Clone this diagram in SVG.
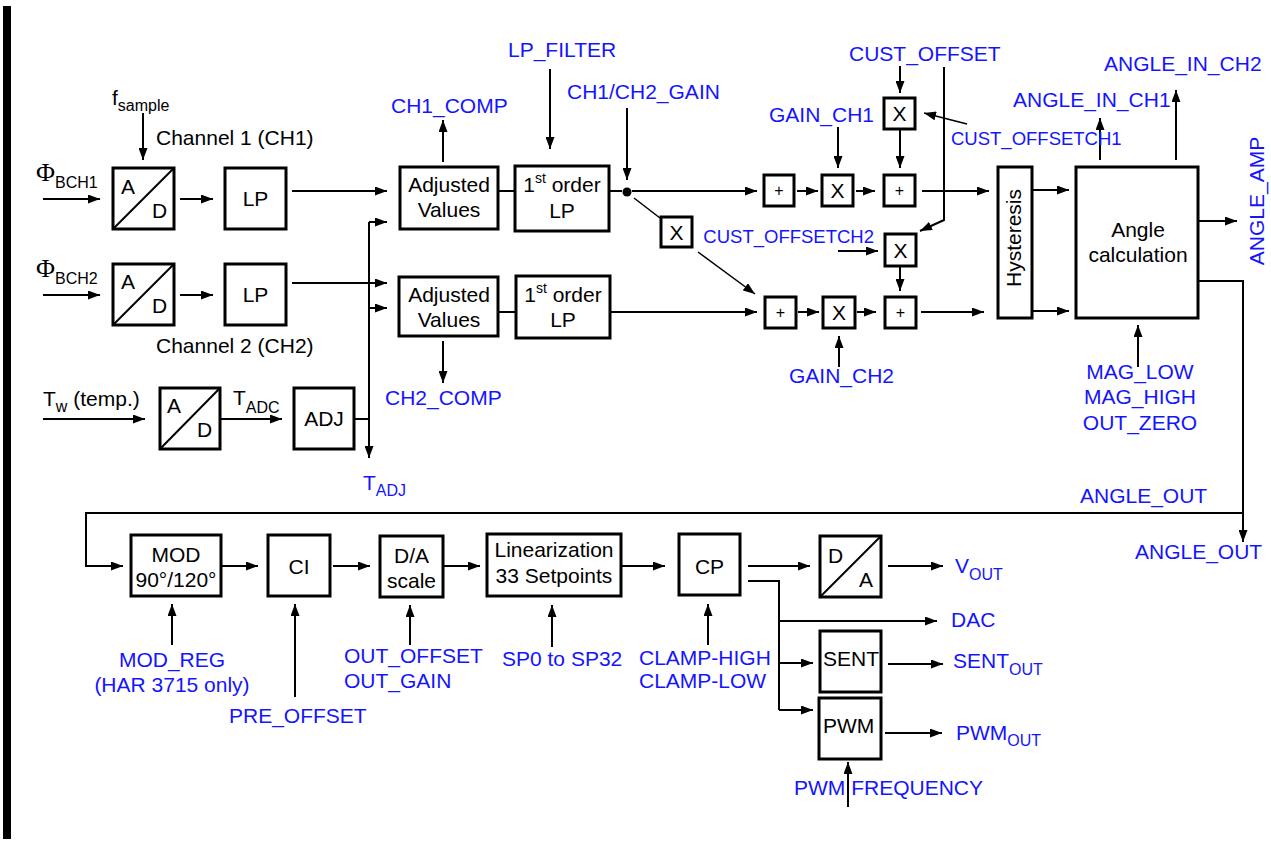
<svg xmlns="http://www.w3.org/2000/svg" width="1271" height="841" viewBox="0 0 1271 841">
<defs>
<marker id="ah" markerUnits="userSpaceOnUse" markerWidth="12" markerHeight="9" refX="12" refY="4.5" orient="auto"><path d="M0,0 L12,4.5 L0,9 z" fill="#000"/></marker>
<style>
.box{fill:#fff;stroke:#000;stroke-width:3}
.ln{fill:none;stroke:#000;stroke-width:2}
.thin{fill:none;stroke:#000;stroke-width:1.5}
.a{marker-end:url(#ah)}
text{font-family:"Liberation Sans",Arial,Helvetica,sans-serif;font-size:21px;fill:#000}
.bl{fill:#1414ff}
.m{text-anchor:middle}
.e{text-anchor:end}
.sub{font-size:16px}
.sm{font-size:16px}
.co{font-size:18.5px}
.phi{font-family:"Liberation Serif","Times New Roman",serif;font-size:26px}
</style>
</defs>
<rect width="1271" height="841" fill="#fff"/>
<rect x="3" y="6" width="8" height="833" fill="#000"/>

<g id="connectors">
<path class="ln a" d="M143,113 V160"/>
<path class="ln a" d="M43,199 H100"/>
<path class="ln a" d="M180,199 H213"/>
<path class="ln a" d="M292,191 H387"/>
<path class="ln a" d="M43,295 H100"/>
<path class="ln a" d="M180,295 H213"/>
<path class="ln a" d="M292,283 H387"/>
<path class="ln a" d="M43,419 H145"/>
<path class="ln a" d="M220,419 H282"/>
<path class="ln" d="M354,419 H369"/>
<path class="ln a" d="M369,222 V458"/>
<path class="ln a" d="M369,222 H387"/>
<path class="ln a" d="M369,308 H387"/>
<path class="ln a" d="M443,162 V120"/>
<path class="ln a" d="M443,341 V383"/>
<path class="ln" d="M498,191 H515"/>
<path class="ln a" d="M550,69 V149"/>
<path class="ln" d="M609,191 H622"/>
<path class="ln a" d="M627,108 V180"/>
<circle cx="627" cy="192" r="4.5" fill="#000"/>
<path class="ln a" d="M632,191 H757"/>
<path class="thin" d="M634,198 L660,218"/>
<path class="thin a" d="M698,252 L755,294"/>
<path class="ln" d="M498,312 H516"/>
<path class="ln a" d="M610,312 H757"/>
<path class="ln a" d="M797,191 H818"/>
<path class="ln a" d="M856,191 H875"/>
<path class="ln a" d="M900,66 V93"/>
<path class="ln a" d="M900,130 V168"/>
<path class="ln a" d="M838,127 V168"/>
<path class="ln a" d="M944,67 V220 L920,231"/>
<path class="thin a" d="M967,124 L924,113"/>
<path class="ln a" d="M838,251 H878"/>
<path class="ln a" d="M900,267 V291"/>
<path class="ln a" d="M798,312 H819"/>
<path class="ln a" d="M857,312 H876"/>
<path class="ln a" d="M839,367 V336"/>
<path class="ln a" d="M922,191 H989"/>
<path class="ln a" d="M921,312 H984"/>
<path class="ln a" d="M1032,190 H1069"/>
<path class="ln a" d="M1032,311 H1069"/>
<path class="ln a" d="M1100,160 V118"/>
<path class="ln a" d="M1176,160 V90"/>
<path class="ln a" d="M1198,221 H1237"/>
<path class="ln a" d="M1198,281 H1243 V542"/>
<path class="ln a" d="M1138,367 V325"/>
<path class="ln a" d="M1243,513 H86 V566 H123"/>
<path class="ln a" d="M221,566 H258"/>
<path class="ln a" d="M333,566 H370"/>
<path class="ln a" d="M443,566 H480"/>
<path class="ln a" d="M621,566 H665"/>
<path class="ln a" d="M748,566 H810"/>
<path class="ln a" d="M888,566 H943"/>
<path class="ln" d="M748,581 H779 V710"/>
<path class="ln a" d="M779,621 H937"/>
<path class="ln a" d="M779,663 H813"/>
<path class="ln a" d="M779,710 H813"/>
<path class="ln a" d="M888,664 H943"/>
<path class="ln a" d="M885,733 H942"/>
<path class="ln a" d="M848,807 V762"/>
<path class="ln a" d="M172,645 V604"/>
<path class="ln a" d="M295,697 V604"/>
<path class="ln a" d="M410,645 V605"/>
<path class="ln a" d="M552,647 V605"/>
<path class="ln a" d="M708,645 V604"/>
</g>

<g id="ad1"><rect class="box" x="113" y="168" width="61" height="61"/><path class="ln" d="M113,229 L174,168"/><text x="121" y="194">A</text><text x="152" y="218">D</text></g>
<g id="lp1"><rect class="box" x="225" y="168" width="61" height="61"/><text class="m" x="255.5" y="206">LP</text></g>
<g id="ad2"><rect class="box" x="113" y="264" width="61" height="61"/><path class="ln" d="M113,325 L174,264"/><text x="121" y="289">A</text><text x="152" y="313">D</text></g>
<g id="lp2"><rect class="box" x="225" y="264" width="61" height="61"/><text class="m" x="255.5" y="302">LP</text></g>
<g id="ad3"><rect class="box" x="160" y="388" width="60" height="61"/><path class="ln" d="M160,449 L220,388"/><text x="167" y="413">A</text><text x="197" y="437">D</text></g>
<g id="adj"><rect class="box" x="294" y="388" width="60" height="61"/><text class="m" x="324" y="426">ADJ</text></g>
<g id="adjv1"><rect class="box" x="400" y="167" width="98" height="62"/><text class="m" x="449" y="192">Adjusted</text><text class="m" x="449" y="217">Values</text></g>
<g id="lpf1"><rect class="box" x="515" y="166" width="94" height="65"/><text class="m" x="562" y="192">1<tspan font-size="14" dy="-9">st</tspan><tspan dy="9"> order</tspan></text><text class="m" x="562" y="218">LP</text></g>
<g id="adjv2"><rect class="box" x="399" y="277" width="99" height="59"/><text class="m" x="449" y="302">Adjusted</text><text class="m" x="449" y="327">Values</text></g>
<g id="lpf2"><rect class="box" x="516" y="276" width="94" height="62"/><text class="m" x="563" y="302">1<tspan font-size="14" dy="-9">st</tspan><tspan dy="9"> order</tspan></text><text class="m" x="563" y="327">LP</text></g>
<g id="xmid"><rect class="box" x="661" y="217" width="31" height="30"/><text class="m" x="676.5" y="240">X</text></g>
<g id="xtop"><rect class="box" x="884" y="98" width="31" height="31"/><text class="m" x="899.5" y="121">X</text></g>
<g id="p1l"><rect class="box" x="764" y="175" width="30" height="31"/><text class="m sm" x="779" y="196">+</text></g>
<g id="x1"><rect class="box" x="822" y="175" width="31" height="31"/><text class="m" x="837.5" y="198">X</text></g>
<g id="p1r"><rect class="box" x="884" y="175" width="31" height="31"/><text class="m sm" x="899.5" y="196">+</text></g>
<g id="xlow"><rect class="box" x="885" y="234" width="31" height="32"/><text class="m" x="900.5" y="258">X</text></g>
<g id="p2l"><rect class="box" x="765" y="297" width="31" height="31"/><text class="m sm" x="780.5" y="318">+</text></g>
<g id="x2"><rect class="box" x="823" y="297" width="32" height="31"/><text class="m" x="839" y="320">X</text></g>
<g id="p2r"><rect class="box" x="885" y="297" width="31" height="31"/><text class="m sm" x="900.5" y="318">+</text></g>
<g id="hyst"><rect class="box" x="998" y="167" width="34" height="151"/><text class="m" transform="translate(1021,238) rotate(-90)">Hysteresis</text></g>
<g id="angle"><rect class="box" x="1076" y="167" width="122" height="151"/><text class="m" x="1138" y="237">Angle</text><text class="m" x="1138" y="262">calculation</text></g>
<g id="mod"><rect class="box" x="131" y="535" width="90" height="61"/><text class="m" x="176" y="562">MOD</text><text class="m" x="176" y="587">90°/120°</text></g>
<g id="ci"><rect class="box" x="268" y="535" width="62" height="61"/><text class="m" x="299" y="574">CI</text></g>
<g id="dascale"><rect class="box" x="380" y="536" width="63" height="61"/><text class="m" x="411.5" y="563">D/A</text><text class="m" x="411.5" y="588">scale</text></g>
<g id="lin"><rect class="box" x="487" y="534" width="134" height="62"/><text class="m" x="554" y="557">Linearization</text><text class="m" x="554" y="583">33 Setpoints</text></g>
<g id="cp"><rect class="box" x="679" y="534" width="61" height="61"/><text class="m" x="709.5" y="574">CP</text></g>
<g id="da"><rect class="box" x="820" y="536" width="61" height="61"/><path class="ln" d="M820,597 L881,536"/><text x="828" y="563">D</text><text x="859" y="587">A</text></g>
<g id="sent"><rect class="box" x="820" y="631" width="61" height="61"/><text x="823" y="666">SENT</text></g>
<g id="pwm"><rect class="box" x="819" y="698" width="62" height="61"/><text x="823" y="733">PWM</text></g>

<g id="labels">
<text x="112" y="105">f<tspan class="sub" dy="6">sample</tspan></text>
<text x="156" y="145" font-size="22">Channel 1 (CH1)</text>
<text x="36" y="181"><tspan class="phi">Φ</tspan><tspan class="sub" dy="7">BCH1</tspan></text>
<text x="36" y="277"><tspan class="phi">Φ</tspan><tspan class="sub" dy="7">BCH2</tspan></text>
<text x="156" y="353" font-size="22">Channel 2 (CH2)</text>
<text x="43" y="406">T<tspan class="sub" dy="6">w</tspan><tspan dy="-6"> (temp.)</tspan></text>
<text x="233" y="405">T<tspan class="sub" dy="8">ADC</tspan></text>
<text class="bl" x="363" y="490">T<tspan class="sub" dy="6">ADJ</tspan></text>
<text class="bl" x="391" y="113">CH1_COMP</text>
<text class="bl" x="385" y="405">CH2_COMP</text>
<text class="bl" x="508" y="57">LP_FILTER</text>
<text class="bl" x="567" y="99">CH1/CH2_GAIN</text>
<text class="bl" x="849" y="61">CUST_OFFSET</text>
<text class="bl" x="769" y="122">GAIN_CH1</text>
<text class="bl co" x="951" y="145">CUST_OFFSETCH1</text>
<text class="bl co e" x="874" y="243">CUST_OFFSETCH2</text>
<text class="bl" x="1013" y="107">ANGLE_IN_CH1</text>
<text class="bl" x="1104" y="71">ANGLE_IN_CH2</text>
<text class="bl m" transform="translate(1264,201) rotate(-90)">ANGLE_AMP</text>
<text class="bl" x="789" y="383">GAIN_CH2</text>
<text class="bl m" x="1140" y="379">MAG_LOW</text>
<text class="bl m" x="1140" y="404">MAG_HIGH</text>
<text class="bl m" x="1140" y="430">OUT_ZERO</text>
<text class="bl" x="1080" y="503">ANGLE_OUT</text>
<text class="bl" x="1135" y="559">ANGLE_OUT</text>
<text class="bl" x="955" y="573">V<tspan class="sub" dy="7">OUT</tspan></text>
<text class="bl" x="951" y="627">DAC</text>
<text class="bl" x="953" y="668">SENT<tspan class="sub" dy="7">OUT</tspan></text>
<text class="bl" x="956" y="740">PWM<tspan class="sub" dy="6">OUT</tspan></text>
<text class="bl" x="794" y="795">PWM FREQUENCY</text>
<text class="bl" x="639" y="665">CLAMP-HIGH</text>
<text class="bl" x="639" y="688">CLAMP-LOW</text>
<text class="bl" x="502" y="666">SP0 to SP32</text>
<text class="bl" x="344" y="663">OUT_OFFSET</text>
<text class="bl" x="344" y="688">OUT_GAIN</text>
<text class="bl" x="229" y="723">PRE_OFFSET</text>
<text class="bl m" x="172" y="667">MOD_REG</text>
<text class="bl m" x="172" y="692">(HAR 3715 only)</text>
</g>
</svg>
